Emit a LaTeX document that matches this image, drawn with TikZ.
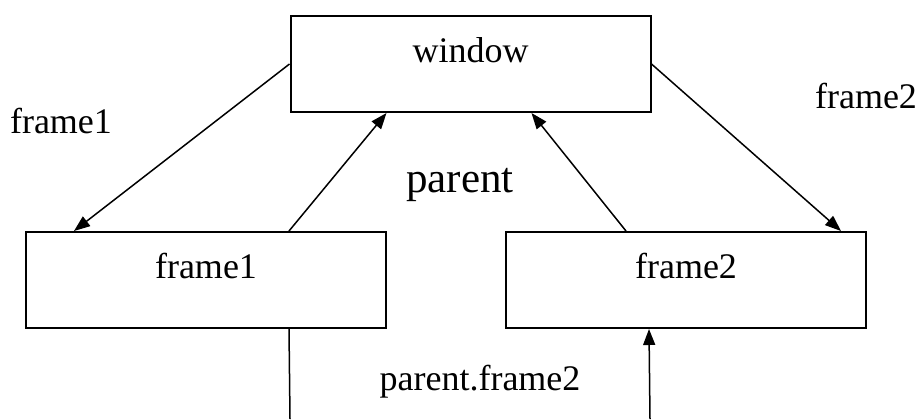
\documentclass[tikz,border=0pt]{standalone}
\usepackage{fontspec}
\setmainfont{Liberation Serif}
\usetikzlibrary{arrows.meta,calc}
\begin{document}
\begin{tikzpicture}[x=0.5pt,y=-0.5pt,
  box/.style={draw,line width=1pt,rectangle,inner sep=0pt,
    minimum width=180pt,minimum height=48pt},
  boxtext/.style={anchor=base,font=\fontsize{18pt}{20pt}\selectfont},
  lbl/.style={anchor=base,font=\fontsize{18pt}{20pt}\selectfont},
  conn/.style={line width=0.75pt,-{Triangle[length=8pt,width=6pt]}},
  plain/.style={line width=0.75pt}]
\useasboundingbox (0,0) rectangle (920,419);

% boxes
\node[box] (window) at (470.5,64) {};
\node[box] (frame1) at (206,280) {};
\node[box] (frame2) at (686,280) {};

% box captions
\node[boxtext] (windowtxt) at (470.5,62) {window};
\node[boxtext] (frame1txt) at (206,278) {frame1};
\node[boxtext] (frame2txt) at (686,278) {frame2};

% free labels
\node[lbl] (lblf1) at (61,133) {frame1};
\node[lbl] (lblf2) at (866,108) {frame2};
\node[anchor=base,font=\fontsize{21.5pt}{24pt}\selectfont] (lblparent) at (460,192) {parent};
\node[lbl] (lblpf2) at (480,390) {parent.frame2};

% free ends at the lower edge
\coordinate (down1) at (290,419);
\coordinate (down2) at (650,419);

% connectors
\draw[conn] (window.west) -- ([xshift=24.5pt]frame1.north west);
\draw[conn] ([xshift=132pt]frame1.north west) -- ([xshift=48.5pt]window.south west);
\draw[conn] ([xshift=60.5pt]frame2.north west) -- ([xshift=121pt]window.south west);
\draw[conn] (window.east) -- ([xshift=168pt]frame2.north west);
\draw[plain] ([xshift=132pt]frame1.south west) -- (down1);
\draw[conn] (down2) -- ([xshift=72pt]frame2.south west);
\end{tikzpicture}
\end{document}
